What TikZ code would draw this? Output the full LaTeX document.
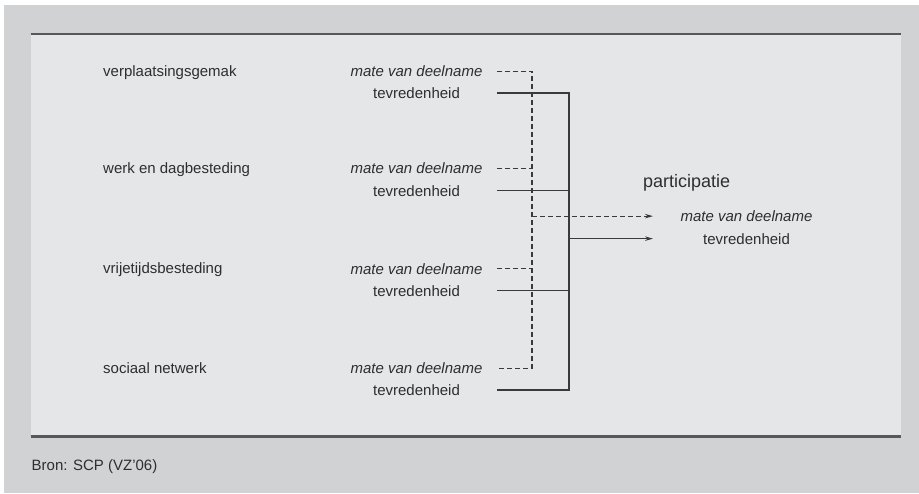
\documentclass[tikz,border=0pt]{standalone}
\usepackage{fontspec}
\setmainfont{Liberation Sans}
\usetikzlibrary{arrows.meta,calc}
\definecolor{outerbg}{HTML}{D1D2D4}
\definecolor{innerbg}{HTML}{E5E6E8}
\definecolor{rulecol}{HTML}{58585A}
\definecolor{linecol}{HTML}{3A3A3C}
\definecolor{txtcol}{HTML}{2E2E30}
\tikzset{
  frameline/.style={draw=rulecol, line width=2.2pt},
  lbl/.style={inner sep=0pt, text=txtcol, font=\fontsize{15}{18}\selectfont},
  itlbl/.style={lbl, font=\fontsize{15}{18}\selectfont\itshape},
  biglbl/.style={inner sep=0pt, text=txtcol, font=\fontsize{18}{21}\selectfont},
  dashline/.style={draw=linecol, line width=1.2pt, dash pattern=on 5pt off 3pt},
  solidline/.style={draw=linecol, line width=1.5pt},
  arrowtip/.style={-{Stealth[length=8pt,width=4.5pt]}}
}
\begin{document}
\begin{tikzpicture}[x=1pt,y=-1pt]
\useasboundingbox (0,0) rectangle (919,493);
\fill[white] (0,0) rectangle (919,493);
\fill[outerbg] (4,5) rectangle (919,493);
\fill[innerbg] (30.5,34) rectangle (900.5,436.5);
\draw[frameline] (30.5,34) -- (900.5,34);
\draw[frameline] (30.5,436.5) -- (900.5,436.5);

% left labels
\node[lbl, anchor=base west] (l1) at (103,76.5) {verplaatsingsgemak};
\node[lbl, anchor=base west] (l2) at (103,173.5) {werk en dagbesteding};
\node[lbl, anchor=base west] (l3) at (103,273.5) {vrijetijdsbesteding};
\node[lbl, anchor=base west] (l4) at (103,373.5) {sociaal netwerk};

% middle labels
\node[itlbl, anchor=base] (m1) at (416.5,76.5) {mate van deelname};
\node[lbl, anchor=base] (t1) at (416.5,98.5) {tevredenheid};
\node[itlbl, anchor=base] (m2) at (416.5,173.5) {mate van deelname};
\node[lbl, anchor=base] (t2) at (416.5,196) {tevredenheid};
\node[itlbl, anchor=base] (m3) at (416.5,274) {mate van deelname};
\node[lbl, anchor=base] (t3) at (416.5,296) {tevredenheid};
\node[itlbl, anchor=base] (m4) at (416.5,373.5) {mate van deelname};
\node[lbl, anchor=base] (t4) at (416.5,395.5) {tevredenheid};

% right labels
\node[biglbl, anchor=base west] (p) at (643,187.5) {participatie};
\node[itlbl, anchor=base] (rm) at (746.5,221.5) {mate van deelname};
\node[lbl, anchor=base] (rt) at (746.5,244) {tevredenheid};

% source
\node[lbl, anchor=base west] (src) at (31.5,470) {Bron: SCP (VZ’06)};

% connector columns
\coordinate (sx) at (497,0);
\coordinate (dx) at (532,0);
\coordinate (px) at (569,0);
\coordinate (ax) at (653,0);

% dashed (mate van deelname)
\draw[dashline] (m1 -| sx) -- (m1 -| dx) -- (m4 -| dx) -- (m4 -| sx);
\draw[dashline] (m2 -| sx) -- (m2 -| dx);
\draw[dashline] (m3 -| sx) -- (m3 -| dx);
\draw[dashline, arrowtip] (rm -| dx) -- (rm -| ax);

% solid (tevredenheid)
\draw[solidline] (t1 -| sx) -- (t1 -| px) -- (t4 -| px) -- (t4 -| sx);
\draw[solidline] (t2 -| sx) -- (t2 -| px);
\draw[solidline] (t3 -| sx) -- (t3 -| px);
\draw[solidline, arrowtip] (rt -| px) -- (rt -| ax);
\end{tikzpicture}
\end{document}
